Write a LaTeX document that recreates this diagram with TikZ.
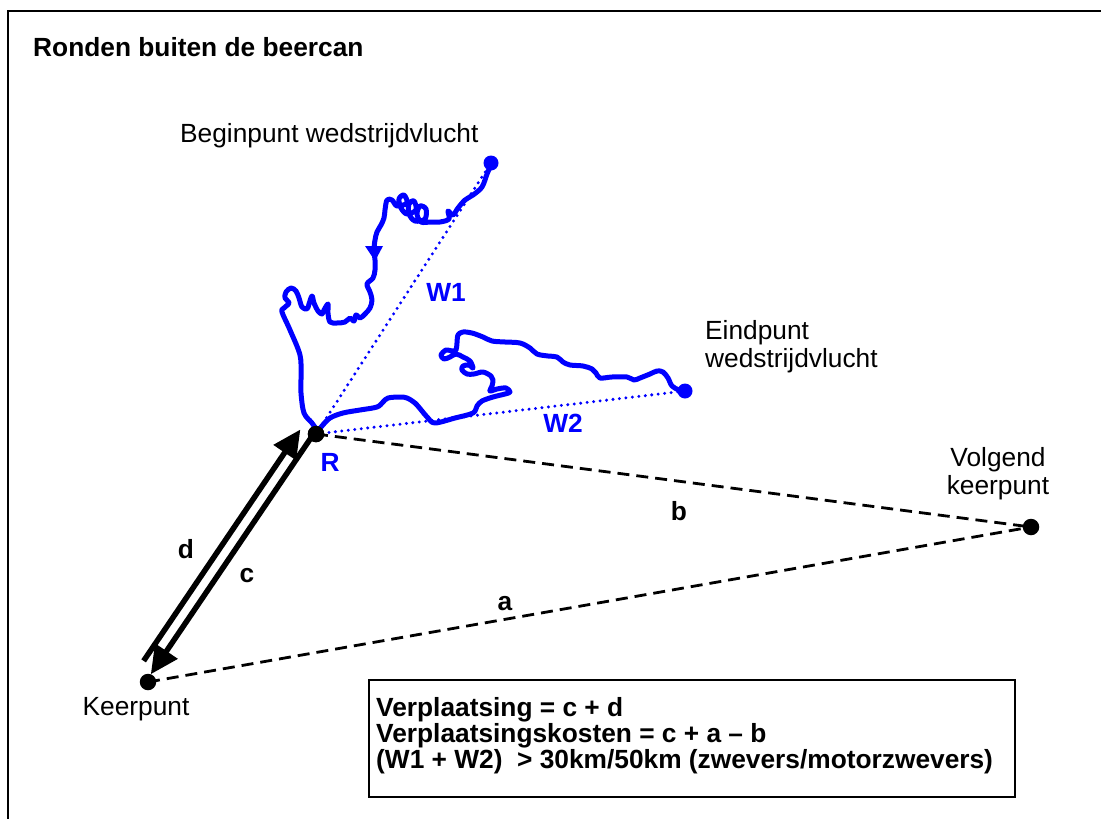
\documentclass[tikz,border=0pt]{standalone}
\usepackage{fontspec}
\setmainfont{Liberation Sans}
\usetikzlibrary{arrows.meta}
\begin{document}
\begin{tikzpicture}[x=1pt,y=-1pt,
  kdot/.style={circle, fill=black, inner sep=0pt, minimum size=16.5pt},
  bdot/.style={circle, fill=blue, inner sep=0pt, minimum size=15pt},
  lbl/.style={font=\fontsize{26.3}{31}\selectfont, inner sep=0pt},
  blbl/.style={font=\fontsize{26.3}{31}\selectfont\bfseries, inner sep=0pt},
  track/.style={blue, line width=5pt, line join=round, line cap=round},
  wline/.style={blue, line width=3.3pt, line cap=round, dash pattern=on 0pt off 6.5pt},
  kdash/.style={line width=2.8pt, dash pattern=on 12pt off 7pt},
  bigarrow/.style={line width=5.5pt, -{Triangle[length=28pt,width=26pt]}}
]
\useasboundingbox (0,0) rectangle (1101,819);
\begin{scope}
\clip (0,0) rectangle (1101,819);
\draw[line width=2.4pt] (8,11) rectangle (1130,840);
\end{scope}

% title
\node[blbl, anchor=base west] (title) at (33,56) {Ronden buiten de beercan};

% points
\node[kdot] (R) at (316,434) {};
\node[kdot] (K) at (148,682) {};
\node[kdot] (V) at (1031,527) {};
\node[bdot] (B) at (491,163) {};
\node[bdot] (E) at (685,391) {};

% labels
\node[lbl, anchor=base west] (lB) at (180,142) {Beginpunt wedstrijdvlucht};
\node[lbl, anchor=base west] (lE1) at (705,339) {Eindpunt};
\node[lbl, anchor=base west] (lE2) at (705,367) {wedstrijdvlucht};
\node[lbl, anchor=base] (lV1) at (998,466) {Volgend};
\node[lbl, anchor=base] (lV2) at (998,494) {keerpunt};
\node[lbl, anchor=base] (lK) at (136,715) {Keerpunt};
\node[blbl, blue, anchor=base] (lR) at (330,471) {R};
\node[blbl, blue, anchor=base] (lW1) at (446,301) {W1};
\node[blbl, blue, anchor=base] (lW2) at (563,432) {W2};
\node[blbl, anchor=base] (lb) at (679,520) {b};
\node[blbl, anchor=base] (la) at (505,610) {a};
\node[blbl, anchor=base] (ld) at (186,558) {d};
\node[blbl, anchor=base] (lc) at (247,582) {c};

% dashed lines
\draw[kdash] (R.center) -- (V.center);
\draw[kdash] (K.center) -- (V.center);

% dotted straight lines W1, W2
\draw[wline] (R.center) -- (B.center);
\draw[wline] (R.center) -- (E.center);

% flight track 1 (begin -> R)
\draw[track] plot[smooth, tension=0.55] coordinates {
(491,165) (487,174) (482,187) (473,195) (465,200) (458,208) (453,215)
(448,211) (449,219) (440,222) (430,222) (421,222) (417,214) (420,206)
(426,209) (425,219) (415,221) (409,214) (409,204) (414,201) (416,210)
(407,214) (401,208) (399,199) (404,195) (407,203) (397,206) (392,200)
(387,200) (385,210) (384,218) (381,225) (377,232) (375,240) (374,250)
(375,260) (375,270) (373,278) (367,284) (370,292) (372,300) (370,308)
(365,314) (360,318) (356,315) (354,321) (350,318) (345,322) (337,323)
(330,322) (328,313) (328,304) (324,310) (322,314) (318,311) (314,303)
(312,296) (309,304) (307,309) (302,307) (299,298) (296,291) (291,288)
(286,292) (285,298) (289,303) (284,308) (282,312) (290,330) (300,355)
(301,375) (301,393) (304,413) (312,423) (318,432)};
\fill[blue] (365,246) -- (383,246) -- (375,261) -- cycle;

% flight track 2 (R -> end)
\draw[track] plot[smooth, tension=0.55] coordinates {
(317,432) (322,426) (330,418) (343,413) (360,410) (377,407) (383,402)
(388,398) (400,397) (407,398) (415,403) (422,411) (428,418) (435,423)
(455,418) (473,413) (477,406) (482,401) (493,397) (505,394) (510,392)
(506,388) (497,389) (490,391) (492,386) (493,380) (491,376) (483,372)
(474,374) (467,374) (462,370) (463,366) (469,365) (473,368) (470,361)
(463,357) (456,354) (450,357) (444,359) (441,355) (446,350) (452,351)
(456,350) (457,343) (458,335) (463,332) (472,333) (483,337) (492,341)
(505,342) (520,343) (530,348) (537,354) (548,356) (557,357) (563,362)
(570,365) (583,366) (592,369) (596,373) (600,378) (612,377) (627,377)
(634,380) (640,378) (650,374) (657,371) (663,372) (668,378) (672,386)
(679,390) (685,391)};

% displacement arrows c and d
\draw[bigarrow, shorten >=8pt] ([shift={(-1.7,-1.1)}]R.center) -- ([shift={(-1.7,-1.1)}]K.center);
\draw[bigarrow, shorten <=15pt, shorten >=5pt] ([shift={(-12.8,-8.7)}]K.center) -- ([shift={(-12.8,-8.7)}]R.center);

% redraw R dot on top
\fill (R) circle (8.25pt);

% formula box
\draw[line width=2.4pt] (369,680) rectangle (1015,797);
\node[blbl, anchor=base west] (f1) at (376,716) {Verplaatsing = c + d};
\node[blbl, anchor=base west] (f2) at (376,742) {Verplaatsingskosten = c + a -- b};
\node[blbl, anchor=base west] (f3) at (376,768) {(W1 + W2)\ \ > 30km/50km (zwevers/motorzwevers)};
\end{tikzpicture}
\end{document}
